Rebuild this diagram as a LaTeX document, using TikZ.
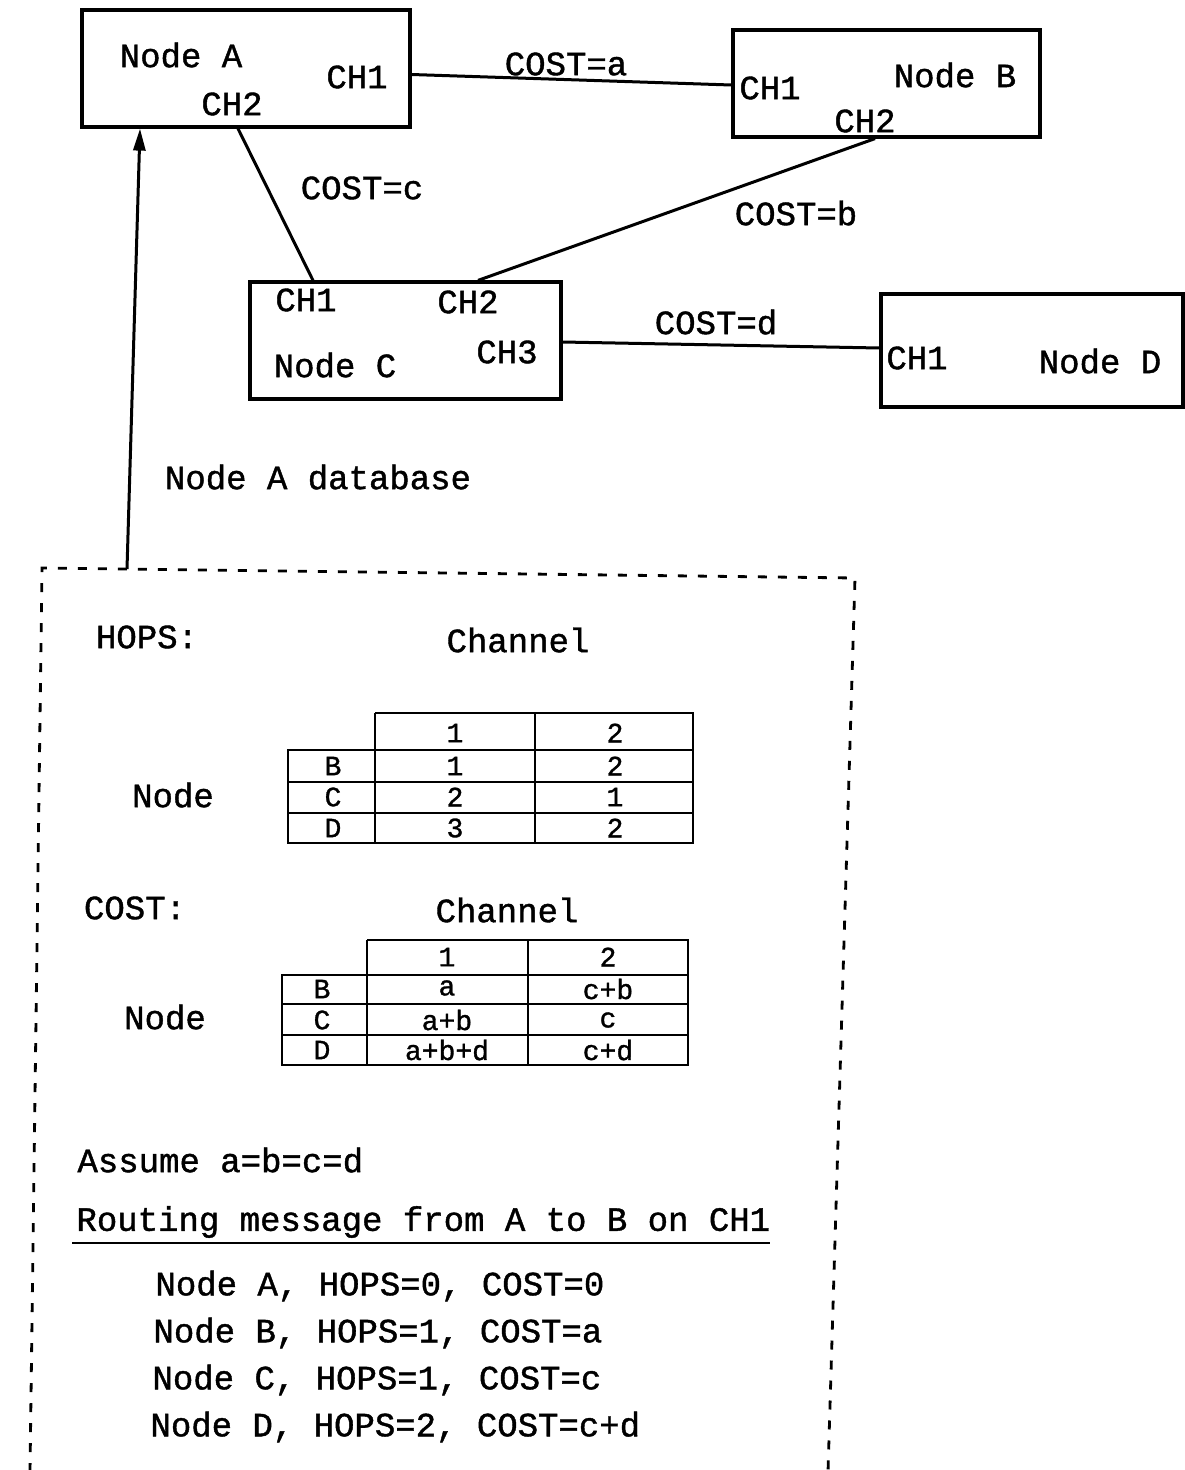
\documentclass[tikz,border=0pt]{standalone}
\usepackage{fontspec}
\setmainfont{Liberation Mono}[FakeBold=1.2]
\usetikzlibrary{arrows.meta}
\begin{document}
\begin{tikzpicture}[x=1pt,y=-1pt,
  line width=3pt,
  every node/.style={font=\fontsize{34}{40}\selectfont, inner sep=0pt},
  cell/.style={font=\fontsize{28}{33}\selectfont},
  netbox/.style={draw, line width=3.2pt, rectangle},
  tline/.style={line width=2.8pt},
  dbox/.style={dash pattern=on 9pt off 11pt, line width=2.8pt}]
\useasboundingbox (0,0) rectangle (1185,1470);
% network boxes
\node[netbox, minimum width=328pt, minimum height=117pt] (A) at (246,68.5) {};
\node[netbox, minimum width=307pt, minimum height=107pt] (B) at (886.5,83.5) {};
\node[netbox, minimum width=311pt, minimum height=117pt] (C) at (405.5,340.5) {};
\node[netbox, minimum width=302pt, minimum height=113pt] (D) at (1032,350.5) {};
% labels in boxes
\node (An) at (181,55) {Node A};
\node (A1) at (357,77) {CH1};
\node (A2) at (232,104) {CH2};
\node (B1) at (770,88) {CH1};
\node (Bn) at (955,75) {Node B};
\node (B2) at (865,121) {CH2};
\node (C1) at (306,300) {CH1};
\node (C2) at (468,302) {CH2};
\node (Cn) at (335,365) {Node C};
\node (C3) at (507,352) {CH3};
\node (D1) at (917,358) {CH1};
\node (Dn) at (1100,361) {Node D};
% links
\draw ([yshift=-6pt]A.east) -- ([yshift=-1.5pt]B.west);
\draw ([xshift=-8pt]A.south) -- ([xshift=-92.5pt]C.north);
\draw ([xshift=-11.5pt]B.south) -- ([xshift=72.5pt]C.north);
\draw ([yshift=-1.5pt]C.east) -- ([yshift=2.5pt]D.west);
\node (la) at (566,64) {COST=a};
\node (lc) at (362,188) {COST=c};
\node (lb) at (796,213) {COST=b};
\node (ld) at (716,322) {COST=d};
% database
\node (dbl) at (318,477) {Node A database};
\coordinate (db) at (127,569);
\draw[dbox] (30,1472) -- (42,568) -- (855,578) -- (828,1472);
\draw[-{Triangle[length=22pt,width=12pt]}] (db) -- ([xshift=-106pt]A.south);
% HOPS table
\node (hops) at (147,637) {HOPS:};
\node (ch1) at (518,640) {Channel};
\node (nd1) at (173,795) {Node};
\draw[tline] (375,713) -- (693,713) -- (693,843) -- (288,843) -- (288,750) -- (693,750);
\draw[tline] (375,713) -- (375,843);
\draw[tline] (535,713) -- (535,843);
\draw[tline] (288,782) -- (693,782);
\draw[tline] (288,813) -- (693,813);
\node[cell] (h01) at (455,733) {1};
\node[cell] (h02) at (615,733) {2};
\node[cell] (hB) at (333,766) {B};
\node[cell] (hB1) at (455,766) {1};
\node[cell] (hB2) at (615,766) {2};
\node[cell] (hC) at (333,797) {C};
\node[cell] (hC1) at (455,797) {2};
\node[cell] (hC2) at (615,797) {1};
\node[cell] (hD) at (333,828) {D};
\node[cell] (hD1) at (455,828) {3};
\node[cell] (hD2) at (615,828) {2};
% COST table
\node (cost) at (135,908) {COST:};
\node (ch2) at (507,910) {Channel};
\node (nd2) at (165,1017) {Node};
\draw[tline] (367,940) -- (688,940) -- (688,1065) -- (282,1065) -- (282,975) -- (688,975);
\draw[tline] (367,940) -- (367,1065);
\draw[tline] (528,940) -- (528,1065);
\draw[tline] (282,1004) -- (688,1004);
\draw[tline] (282,1035) -- (688,1035);
\node[cell] (c01) at (447,957) {1};
\node[cell] (c02) at (608,957) {2};
\node[cell] (cB) at (322,989) {B};
\node[cell] (cB1) at (447,988) {a};
\node[cell] (cB2) at (608,989) {c+b};
\node[cell] (cC) at (322,1020) {C};
\node[cell] (cC1) at (447,1020) {a+b};
\node[cell] (cC2) at (608,1020) {c};
\node[cell] (cD) at (322,1050) {D};
\node[cell] (cD1) at (447,1050) {a+b+d};
\node[cell] (cD2) at (608,1050) {c+d};
% text
\node[anchor=west] (as) at (76,1160) {Assume a=b=c=d};
\node[anchor=west] (rt) at (75,1222) {Routing message from A to B on CH1};
\draw[line width=2.6pt] (72,1243) -- (770,1243);
\node[anchor=west] (r1) at (154,1286) {Node A, HOPS=0, COST=0};
\node[anchor=west] (r2) at (152,1333) {Node B, HOPS=1, COST=a};
\node[anchor=west] (r3) at (151,1380) {Node C, HOPS=1, COST=c};
\node[anchor=west] (r4) at (149,1427) {Node D, HOPS=2, COST=c+d};
\end{tikzpicture}
\end{document}
